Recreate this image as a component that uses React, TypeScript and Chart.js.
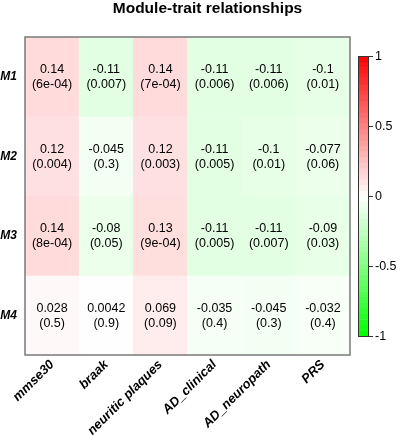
import React, { useEffect, useRef } from 'react';
import { Chart, registerables } from 'chart.js';

Chart.register(...registerables);

const chartTitle = 'Module-trait relationships';
const traits = ['mmse30', 'braak', 'neuritic plaques', 'AD_clinical', 'AD_neuropath', 'PRS'];
const modules = ['M1', 'M2', 'M3', 'M4'];

const corM1 = [0.14, -0.11, 0.14, -0.11, -0.11, -0.1];
const corM2 = [0.12, -0.045, 0.12, -0.11, -0.1, -0.077];
const corM3 = [0.14, -0.08, 0.13, -0.11, -0.11, -0.09];
const corM4 = [0.028, 0.0042, 0.069, -0.035, -0.045, -0.032];

const pM1 = [6e-4, 0.007, 7e-4, 0.006, 0.006, 0.01];
const pM2 = [0.004, 0.3, 0.003, 0.005, 0.01, 0.06];
const pM3 = [8e-4, 0.05, 9e-4, 0.005, 0.007, 0.03];
const pM4 = [0.5, 0.9, 0.09, 0.4, 0.3, 0.4];

const colorbarTicks = [-1, -0.5, 0, 0.5, 1];

const corRows = [corM1, corM2, corM3, corM4];
const pRows = [pM1, pM2, pM3, pM4];

const FONT = '"Liberation Sans", Arial, Helvetica, sans-serif';

function colorFor(v: number): string {
  const c = Math.max(-1, Math.min(1, v));
  if (c >= 0) {
    const g = Math.round(255 * (1 - c));
    return `rgb(255,${g},${g})`;
  }
  const r = Math.round(255 * (1 + c));
  return `rgb(${r},255,${r})`;
}

function fmtCor(v: number): string {
  return String(Number(v.toPrecision(2)));
}

function fmtP(p: number): string {
  if (p < 1e-3) {
    const e = Math.floor(Math.log10(p));
    const m = Math.round(p / Math.pow(10, e));
    const es = Math.abs(e) < 10 ? '0' + Math.abs(e) : String(Math.abs(e));
    return `${m}e${e < 0 ? '-' : '+'}${es}`;
  }
  return String(Number(p.toPrecision(1)));
}

const overlayPlugin = {
  id: 'overlay',
  afterDatasetsDraw(chart: any) {
    const { ctx, chartArea, scales } = chart;
    const xs = scales.x;
    const ys = scales.y;
    ctx.save();
    // cell texts
    ctx.fillStyle = '#000';
    ctx.font = `12.5px ${FONT}`;
    ctx.textAlign = 'center';
    ctx.textBaseline = 'middle';
    corRows.forEach((row, i) => {
      row.forEach((v, j) => {
        const x = xs.getPixelForValue(j);
        const y = ys.getPixelForValue(i + 0.5);
        ctx.fillText(fmtCor(v), x, y - 7);
        ctx.fillText(`(${fmtP(pRows[i][j])})`, x, y + 8);
      });
    });
    // plot border
    ctx.strokeStyle = '#7a7a7a';
    ctx.lineWidth = 1.5;
    ctx.strokeRect(chartArea.left, chartArea.top, chartArea.right - chartArea.left, chartArea.bottom - chartArea.top);

    // colour bar
    const cbLeft = chartArea.right + 8;
    const cbW = 10;
    const cbTop = chartArea.top + 19;
    const cbBottom = chartArea.bottom - 19;
    const vmin = colorbarTicks[0];
    const vmax = colorbarTicks[colorbarTicks.length - 1];
    const yFor = (v: number) => cbBottom - ((v - vmin) / (vmax - vmin)) * (cbBottom - cbTop);
    const steps = 50;
    for (let k = 0; k < steps; k++) {
      const v0 = vmin + ((vmax - vmin) * k) / steps;
      const v1 = vmin + ((vmax - vmin) * (k + 1)) / steps;
      const mid = (v0 + v1) / 2;
      ctx.fillStyle = colorFor(mid);
      const ya = yFor(v1);
      const yb = yFor(v0);
      ctx.fillRect(cbLeft, ya, cbW, yb - ya + 0.5);
    }
    ctx.strokeStyle = '#333';
    ctx.lineWidth = 1;
    ctx.strokeRect(cbLeft + 0.5, cbTop + 0.5, cbW, cbBottom - cbTop);
    ctx.fillStyle = '#000';
    ctx.font = `12.5px ${FONT}`;
    ctx.textAlign = 'left';
    ctx.textBaseline = 'middle';
    colorbarTicks.forEach((t) => {
      const y = Math.round(yFor(t)) + 0.5;
      ctx.beginPath();
      ctx.moveTo(cbLeft + cbW, y);
      ctx.lineTo(cbLeft + cbW + 5, y);
      ctx.stroke();
      ctx.fillText(String(t), cbLeft + cbW + 7, y);
    });

    // title
    ctx.font = `bold 15.5px ${FONT}`;
    ctx.textAlign = 'center';
    ctx.textBaseline = 'alphabetic';
    ctx.fillText(chartTitle, 207.5, 12.5);
    ctx.restore();
  },
};

export default function App() {
  const canvasRef = useRef<HTMLCanvasElement | null>(null);

  useEffect(() => {
    document.body.style.margin = '0';
    const canvas = canvasRef.current;
    if (!canvas) return;
    const datasets = modules.map((m, i) => ({
      label: m,
      data: traits.map(() => [i, i + 1]),
      backgroundColor: corRows[i].map(colorFor),
      borderWidth: 0,
      barPercentage: 1,
      categoryPercentage: 1,
      grouped: false,
    }));
    const chart = new Chart(canvas, {
      type: 'bar',
      data: { labels: traits, datasets: datasets as any },
      options: {
        responsive: false,
        animation: false,
        layout: { padding: { top: 37, right: 50, bottom: 0, left: 0 } },
        plugins: {
          legend: { display: false },
          tooltip: { enabled: false },
          title: { display: false },
        },
        scales: {
          x: {
            type: 'category',
            offset: true,
            grid: { display: false, drawTicks: false },
            border: { display: false },
            ticks: {
              color: '#000',
              font: { family: FONT, size: 13, weight: 'bold', style: 'italic' },
              minRotation: 45,
              maxRotation: 45,
              autoSkip: false,
              padding: 2,
            },
            afterFit: (scale: any) => {
              scale.height = 80;
            },
          },
          y: {
            type: 'linear',
            min: 0,
            max: 4,
            reverse: true,
            grid: { display: false, drawTicks: false },
            border: { display: false },
            afterBuildTicks: (scale: any) => {
              scale.ticks = modules.map((_, i) => ({ value: i + 0.5 }));
            },
            ticks: {
              color: '#000',
              font: { family: FONT, size: 12, weight: 'bold', style: 'italic' },
              padding: 8,
              callback: (_v: any, idx: number) => modules[idx],
            },
            afterFit: (scale: any) => {
              scale.width = 25;
            },
          },
        },
      },
      plugins: [overlayPlugin],
    });
    return () => chart.destroy();
  }, []);

  return <canvas ref={canvasRef} width={400} height={435} style={{ display: 'block' }} />;
}
